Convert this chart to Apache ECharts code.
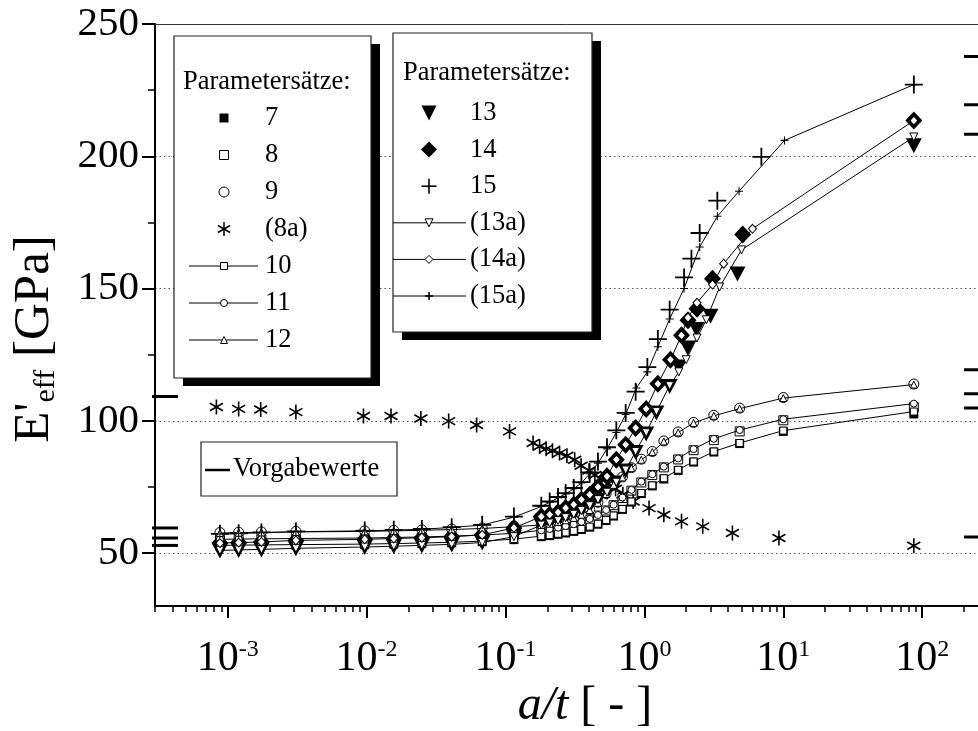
<!DOCTYPE html>
<html>
<head>
<meta charset="utf-8">
<script src="https://cdn.jsdelivr.net/npm/echarts@6.0.0/dist/echarts.min.js"></script>
<style>html,body{margin:0;background:#fff}#chart{width:978px;height:731px}</style>
</head>
<body>
<div id="chart"></div>
<script>
const FONT = 'Liberation Serif';
const X_MIN = 0.0003;
const X_MAX = 252;

// a/t positions shared by all sets in the flat part
const xFlat = [0.00088, 0.0012, 0.00175, 0.0031, 0.0097, 0.0157, 0.025, 0.041, 0.068, 0.115];
// a/t positions of sets 7..12 in the rising part
const xLowGroup = [0.181, 0.208, 0.239, 0.271, 0.31, 0.352, 0.404, 0.463, 0.53, 0.6, 0.695, 0.806, 0.95, 1.14, 1.38, 1.75, 2.26, 3.16, 4.85, 10, 87];

const y7 = [52.7, 52.8, 52.9, 53.0, 53.2, 53.4, 53.6, 53.9, 54.3, 55.1, 56.2, 56.6, 57.1, 57.6, 58.2, 58.9, 59.8, 60.9, 62.3, 64, 66.5, 69.3, 72.5, 75.4, 78, 81.2, 84.4, 88.2, 91.4, 96, 102.6];
const y8 = [55.0, 55.1, 55.2, 55.3, 55.5, 55.7, 55.9, 56.2, 56.6, 57.3, 58.4, 58.9, 59.4, 60, 60.7, 61.6, 62.7, 64.2, 66.1, 68.1, 70.8, 73.6, 76.7, 79.5, 82.4, 85.4, 88.9, 92.7, 96, 100.2, 105.2];
const y9 = [57.8, 57.9, 58.0, 58.2, 58.4, 58.6, 58.8, 59.1, 59.5, 60.2, 60.8, 61.3, 61.9, 62.6, 63.5, 64.7, 66.5, 69.2, 72.5, 76, 78.8, 82.3, 85.5, 88.4, 92.4, 95.8, 99.4, 102.1, 104.8, 108.8, 113.9];
const y10 = [52.9, 53.0, 53.1, 53.2, 53.4, 53.6, 53.8, 54.1, 54.5, 55.3, 56.4, 56.8, 57.3, 57.8, 58.4, 59.1, 60, 61.1, 62.5, 64.2, 66.7, 69.5, 72.7, 75.6, 78.3, 81.5, 84.6, 88.4, 91.6, 96.3, 103.5];
const y11 = [55.2, 55.3, 55.4, 55.5, 55.7, 55.9, 56.1, 56.4, 56.8, 57.5, 58.6, 59.1, 59.6, 60.2, 60.9, 61.8, 62.9, 64.4, 66.3, 68.3, 71, 73.9, 77, 79.8, 82.7, 85.8, 89.3, 93.2, 96.5, 100.6, 106.5];
const y12 = [57.6, 57.7, 57.8, 58.0, 58.2, 58.4, 58.6, 58.9, 59.3, 60, 60.6, 61.1, 61.7, 62.4, 63.3, 64.5, 66.3, 69, 72.3, 75.8, 78.6, 82.1, 85.3, 88.2, 92.2, 95.6, 99.2, 101.9, 104.6, 108.6, 113.7];

const x8a = [0.00083, 0.0012, 0.00173, 0.0031, 0.0095, 0.015, 0.0246, 0.039, 0.062, 0.107, 0.158, 0.176, 0.196, 0.218, 0.245, 0.277, 0.315, 0.35, 0.4, 0.44, 0.49, 0.55, 0.62, 0.7, 0.83, 1.08, 1.38, 1.85, 2.63, 4.3, 9.3, 87];
const y8a = [105.2, 104.5, 104.3, 103.3, 101.8, 101.8, 100.9, 99.9, 98.4, 96, 91.6, 90.3, 89.4, 88.7, 87.8, 86.8, 85.3, 83, 81.2, 79.5, 78, 76.3, 74.3, 72.2, 69.5, 67, 64.5, 62, 60.1, 57.6, 55.7, 52.8];

const xRise13 = [0.181, 0.208, 0.239, 0.271, 0.31, 0.352, 0.404, 0.463, 0.538, 0.628, 0.733, 0.865, 1.03, 1.22, 1.52, 1.77, 2.05, 2.37, 2.99, 4.68, 87];
const y13 = [50.8, 51, 51.2, 51.6, 52.1, 52.4, 52.7, 53.1, 53.8, 56, 60.5, 61.3, 62.2, 63.3, 64.6, 66, 67.7, 70, 72.8, 76.5, 81, 88, 95, 103, 113, 120.3, 127.5, 134.5, 139.5, 155.5, 204];
const xRise13a = [0.181, 0.208, 0.239, 0.271, 0.31, 0.352, 0.404, 0.463, 0.538, 0.628, 0.733, 0.865, 1.03, 1.22, 1.52, 1.77, 2.0, 2.39, 2.79, 3.48, 5.0, 87];
const y13a = [51.0, 51.2, 51.4, 51.8, 52.3, 52.6, 52.9, 53.3, 54, 56.2, 60.6, 61.4, 62.3, 63.4, 64.7, 66.1, 67.9, 70.2, 73, 76.8, 81.4, 88.4, 95.5, 103.5, 113.3, 118.5, 123.1, 131.3, 138.2, 150.6, 164.6, 207.3];
const xRise14 = [0.181, 0.208, 0.239, 0.271, 0.31, 0.352, 0.404, 0.463, 0.538, 0.628, 0.733, 0.865, 1.03, 1.25, 1.54, 1.85, 2.06, 2.39, 3.09, 5.1, 87];
const y14 = [53.8, 54, 54.2, 54.8, 55.2, 55.5, 55.8, 56.2, 56.9, 59.5, 63.8, 64.5, 65.4, 67, 68.3, 70.2, 72.1, 75, 79, 85.3, 91, 97.3, 104.5, 114, 123.1, 132.3, 138, 142.4, 153.7, 170.4, 213.5];
const xRise14a = [0.181, 0.208, 0.239, 0.271, 0.31, 0.352, 0.404, 0.463, 0.538, 0.628, 0.733, 0.865, 1.03, 1.25, 1.54, 1.85, 2.06, 2.39, 3.09, 3.72, 6.0, 87];
const y14a = [53.8, 54, 54.2, 54.8, 55.2, 55.5, 55.8, 56.2, 56.9, 59.5, 63.8, 64.5, 65.4, 67, 68.3, 70.2, 72.1, 75, 79, 85.3, 91, 97.3, 104.5, 114, 123.1, 132.3, 139, 144.6, 151.5, 159.4, 172.6, 213.5];
const xRise15 = [0.181, 0.208, 0.239, 0.271, 0.31, 0.352, 0.404, 0.463, 0.538, 0.628, 0.733, 0.865, 1.05, 1.25, 1.52, 1.93, 2.18, 2.5, 3.35, 6.95, 87];
const y15 = [57.3, 57.5, 57.8, 58.2, 58.5, 58.8, 59.1, 59.8, 60.7, 63.8, 67.9, 69.5, 71.2, 72.7, 74.6, 76.8, 80.5, 84.6, 90, 96.4, 103, 111, 120.3, 130.9, 142, 154.2, 161.3, 171, 183.2, 199.8, 227.1];
const xRise15a = [0.181, 0.208, 0.239, 0.271, 0.31, 0.352, 0.404, 0.463, 0.538, 0.628, 0.733, 0.875, 1.05, 1.25, 1.52, 1.93, 2.5, 3.35, 4.8, 10.2, 87];
const y15a = [57.2, 57.4, 57.7, 58.1, 58.4, 58.7, 59, 59.7, 60.6, 63.6, 67.6, 69.2, 70.9, 72.4, 74.3, 76.5, 80, 84, 89.4, 95.6, 102.4, 112.4, 118.5, 128, 138.5, 150, 165.7, 177.3, 186.8, 206, 227.1];

// Vorgabewerte (target values) marked on the left and right edges
const targetsLeft = [109.2, 59.5, 55.7, 52.9];
const targetsRight = [237.7, 219.5, 208.3, 119.3, 110.2, 104.8, 56.1];
const TARGET_RIGHT_X = 200;

const yMajor = [50, 100, 150, 200, 250];
const yMinor = [75, 125, 175, 225];
const xMajor = [1e-3, 1e-2, 1e-1, 1, 10, 100];
const xMinor = [];
for (let e = -4; e <= 2; e++) {
  for (let m = 2; m <= 9; m++) {
    const v = +(m * Math.pow(10, e)).toPrecision(3);
    if (v >= X_MIN && v <= X_MAX) xMinor.push(v);
  }
}

function pairs(xs, ys) {
  return xs.map((x, i) => [x, ys[i]]);
}

const lowX = xFlat.concat(xLowGroup);
const plusPath = 'path://M0,1H2M1,0V2';
const astPath = 'path://M0,-1V1M-0.866,-0.5L0.866,0.5M-0.866,0.5L0.866,-0.5';
const openStyle = { color: '#fff', borderColor: '#000', borderWidth: 1, opacity: 1 };
const solidStyle = { color: '#000', borderColor: '#000', borderWidth: 0, opacity: 1 };
const strokeStyle = w => ({ color: '#000', borderColor: '#000', borderWidth: w, opacity: 1 });

function scatter(name, data, symbol, size, style, rotate) {
  return {
    name, type: 'scatter', data, symbol, symbolSize: size, symbolRotate: rotate || 0,
    symbolKeepAspect: true, itemStyle: style, silent: true, z: 2
  };
}
function line(name, data, symbol, size, style, rotate) {
  return {
    name, type: 'line', data, symbol, symbolSize: size, symbolRotate: rotate || 0,
    showSymbol: true, symbolKeepAspect: true, itemStyle: style,
    lineStyle: { color: '#000', width: 1 }, silent: true, z: 3
  };
}
function targetSeries(data, dx0, dx1) {
  return {
    type: 'custom', coordinateSystem: 'cartesian2d', clip: false, silent: true, z: 4, data,
    renderItem(params, api) {
      const p = api.coord([api.value(0), api.value(1)]);
      return {
        type: 'line',
        shape: { x1: p[0] + dx0, y1: p[1], x2: p[0] + dx1, y2: p[1] },
        style: { stroke: '#000', lineWidth: 3 }
      };
    }
  };
}

// legend drawing helpers
const LZ = 102;
function mark(kind, cx, cy, s) {
  const h = s / 2;
  const thin = { fill: '#fff', stroke: '#000', lineWidth: 1 };
  const ln = (x1, y1, x2, y2, w) => ({ type: 'line', z: LZ, shape: { x1, y1, x2, y2 }, style: { stroke: '#000', lineWidth: w } });
  switch (kind) {
    case 'sqFill': return [{ type: 'rect', z: LZ, shape: { x: cx - h, y: cy - h, width: s, height: s }, style: { fill: '#000' } }];
    case 'sq': return [{ type: 'rect', z: LZ, shape: { x: cx - h, y: cy - h, width: s, height: s }, style: thin }];
    case 'circ': return [{ type: 'circle', z: LZ, shape: { cx, cy, r: h }, style: thin }];
    case 'tri': return [{ type: 'polygon', z: LZ, shape: { points: [[cx, cy - h], [cx + h, cy + h], [cx - h, cy + h]] }, style: thin }];
    case 'triDown': return [{ type: 'polygon', z: LZ, shape: { points: [[cx - h, cy - h], [cx + h, cy - h], [cx, cy + h]] }, style: thin }];
    case 'triDownFill': return [{ type: 'polygon', z: LZ, shape: { points: [[cx - h, cy - h], [cx + h, cy - h], [cx, cy + h]] }, style: { fill: '#000' } }];
    case 'dia': return [{ type: 'polygon', z: LZ, shape: { points: [[cx, cy - h], [cx + h, cy], [cx, cy + h], [cx - h, cy]] }, style: thin }];
    case 'diaFill': return [{ type: 'polygon', z: LZ, shape: { points: [[cx, cy - h], [cx + h, cy], [cx, cy + h], [cx - h, cy]] }, style: { fill: '#000' } }];
    case 'plus': return [ln(cx - h, cy, cx + h, cy, 1.6), ln(cx, cy - h, cx, cy + h, 1.6)];
    case 'ast': {
      const dx = h * 0.866, dy = h * 0.5;
      return [ln(cx, cy - h, cx, cy + h, 1.5), ln(cx - dx, cy - dy, cx + dx, cy + dy, 1.5), ln(cx - dx, cy + dy, cx + dx, cy - dy, 1.5)];
    }
  }
  return [];
}
function txt(text, x, y, size) {
  return {
    type: 'text', x, y, z: LZ,
    style: {
      text, fill: '#000', fontFamily: FONT, fontSize: size,
      align: 'left', verticalAlign: 'middle', textAlign: 'left', textVerticalAlign: 'middle'
    }
  };
}
function legendBox(box, rows, cfg) {
  const els = [
    { type: 'rect', z: 100, shape: { x: box.x + 9, y: box.y + 8, width: box.w, height: box.h }, style: { fill: '#000' } },
    { type: 'rect', z: 101, shape: { x: box.x, y: box.y, width: box.w, height: box.h }, style: { fill: '#fff', stroke: '#222', lineWidth: 1.2 } },
    txt('Parametersätze:', cfg.titleX, cfg.titleY, 26.5)
  ];
  rows.forEach((r, i) => {
    const cy = cfg.y0 + i * cfg.step;
    if (r.line) {
      els.push({ type: 'line', z: LZ, shape: { x1: cfg.lineX[0], y1: cy, x2: cfg.lineX[1], y2: cy }, style: { stroke: '#000', lineWidth: 1 } });
    }
    mark(r.kind, cfg.symX, cy, r.size).forEach(el => els.push(el));
    els.push(txt(r.label, cfg.labelX, cy, 26.5));
  });
  return els;
}

const legend1Rows = [
  { kind: 'sqFill', label: '7', size: 9 },
  { kind: 'sq', label: '8', size: 9 },
  { kind: 'circ', label: '9', size: 10 },
  { kind: 'ast', label: '(8a)', size: 14 },
  { kind: 'sq', label: '10', size: 7, line: true },
  { kind: 'circ', label: '11', size: 7, line: true },
  { kind: 'tri', label: '12', size: 7, line: true }
];
const legend2Rows = [
  { kind: 'triDownFill', label: '13', size: 15 },
  { kind: 'diaFill', label: '14', size: 16 },
  { kind: 'plus', label: '15', size: 15 },
  { kind: 'triDown', label: '(13a)', size: 8, line: true },
  { kind: 'dia', label: '(14a)', size: 8, line: true },
  { kind: 'plus', label: '(15a)', size: 8, line: true }
];

const graphics = []
  .concat(legendBox({ x: 174, y: 36, w: 197, h: 342 }, legend1Rows,
    { titleX: 183, titleY: 82, y0: 118, step: 37, symX: 224, lineX: [189, 258], labelX: 265 }))
  .concat(legendBox({ x: 393, y: 33, w: 199, h: 299 }, legend2Rows,
    { titleX: 403, titleY: 73, y0: 113, step: 36.6, symX: 429, lineX: [393, 466], labelX: 470 }))
  .concat([
    { type: 'rect', z: 101, shape: { x: 201, y: 442, width: 196, height: 54 }, style: { fill: '#fff', stroke: '#222', lineWidth: 1.2 } },
    { type: 'line', z: LZ, shape: { x1: 205, y1: 470, x2: 230, y2: 470 }, style: { stroke: '#000', lineWidth: 2.5 } },
    txt('Vorgabewerte', 233, 469, 26.5),
    {
      type: 'text', x: 35, y: 339, rotation: Math.PI / 2, z: LZ,
      style: {
        text: "{n|E'}{s|eff}{n| [GPa]}",
        align: 'center', verticalAlign: 'middle', textAlign: 'center', textVerticalAlign: 'middle',
        rich: {
          n: { fontFamily: FONT, fontSize: 51, lineHeight: 52, fill: '#000', verticalAlign: 'middle' },
          s: { fontFamily: FONT, fontSize: 30, lineHeight: 18, fill: '#000', verticalAlign: 'bottom' }
        }
      }
    },
    {
      type: 'text', x: 585, y: 706, z: LZ,
      style: {
        text: '{i|a/t}{n| [ - ]}',
        align: 'center', verticalAlign: 'middle', textAlign: 'center', textVerticalAlign: 'middle',
        rich: {
          i: { fontFamily: FONT, fontSize: 48, fontStyle: 'italic', fill: '#000' },
          n: { fontFamily: FONT, fontSize: 48, fill: '#000' }
        }
      }
    }
  ]);

const logAxisBase = { type: 'log', logBase: 10, min: X_MIN, max: X_MAX, splitLine: { show: false }, minorTick: { show: false }, minorSplitLine: { show: false } };

const option = {
  animation: false,
  backgroundColor: '#fff',
  textStyle: { fontFamily: FONT },
  grid: { left: 155, right: 0, top: 24, bottom: 125, containLabel: false, outerBoundsMode: 'none' },
  xAxis: [
    Object.assign({}, logAxisBase, {
      position: 'bottom',
      axisLine: { show: true, onZero: false, lineStyle: { color: '#000', width: 2 } },
      axisTick: { show: true, length: 12, customValues: xMajor, lineStyle: { color: '#000', width: 2 } },
      axisLabel: {
        show: true, customValues: xMajor, margin: 32, color: '#000',
        formatter: v => '{b|10}{s|' + Math.round(Math.log10(v)) + '}',
        rich: {
          b: { fontFamily: FONT, fontSize: 42, lineHeight: 42, color: '#000', verticalAlign: 'bottom' },
          s: { fontFamily: FONT, fontSize: 24, lineHeight: 20, color: '#000', verticalAlign: 'top' }
        }
      }
    }),
    Object.assign({}, logAxisBase, {
      position: 'bottom',
      axisLine: { show: false, onZero: false },
      axisTick: { show: true, length: 6, customValues: xMinor, lineStyle: { color: '#000', width: 1.5 } },
      axisLabel: { show: false }
    }),
    Object.assign({}, logAxisBase, {
      position: 'top',
      axisLine: { show: true, onZero: false, lineStyle: { color: '#333', width: 1 } },
      axisTick: { show: false },
      axisLabel: { show: false }
    })
  ],
  yAxis: [
    {
      type: 'value', min: 30, max: 250, position: 'left',
      axisLine: { show: true, onZero: false, lineStyle: { color: '#000', width: 2 } },
      axisTick: { show: true, length: 13, customValues: yMajor, lineStyle: { color: '#000', width: 2 } },
      axisLabel: { show: true, customValues: yMajor, margin: 16, color: '#000', fontFamily: FONT, fontSize: 41 },
      splitLine: { show: true, lineStyle: { color: '#555', width: 1, type: [1.5, 3] } }
    },
    {
      type: 'value', min: 30, max: 250, position: 'left',
      axisLine: { show: false, onZero: false },
      axisTick: { show: true, length: 7, customValues: yMinor, lineStyle: { color: '#000', width: 1.5 } },
      axisLabel: { show: false },
      splitLine: { show: false }
    }
  ],
  graphic: { elements: graphics },
  series: [
    scatter('7', pairs(lowX, y7), 'rect', 9, solidStyle),
    scatter('8', pairs(lowX, y8), 'rect', 9, openStyle),
    scatter('9', pairs(lowX, y9), 'circle', 10, openStyle),
    scatter('(8a)', pairs(x8a, y8a), astPath, 15, strokeStyle(1.6)),
    line('10', pairs(lowX, y10), 'rect', 7, openStyle),
    line('11', pairs(lowX, y11), 'circle', 7, openStyle),
    line('12', pairs(lowX, y12), 'triangle', 7, openStyle),
    scatter('13', pairs(xFlat.concat(xRise13), y13), 'triangle', [16, 15], solidStyle, 180),
    scatter('14', pairs(xFlat.concat(xRise14), y14), 'diamond', [17, 18], solidStyle),
    scatter('15', pairs(xFlat.concat(xRise15), y15), plusPath, 18, strokeStyle(1.8)),
    line('(13a)', pairs(xFlat.concat(xRise13a), y13a), 'triangle', 8, openStyle, 180),
    line('(14a)', pairs(xFlat.concat(xRise14a), y14a), 'diamond', [8, 9], openStyle),
    line('(15a)', pairs(xFlat.concat(xRise15a), y15a), plusPath, 8, strokeStyle(1.1)),
    targetSeries(targetsLeft.map(v => [X_MIN, v]), -3, 23),
    targetSeries(targetsRight.map(v => [TARGET_RIGHT_X, v]), 0, 40)
  ]
};

const chart = echarts.init(document.getElementById('chart'), null, { renderer: 'canvas' });
chart.setOption(option);
</script>
</body>
</html>
